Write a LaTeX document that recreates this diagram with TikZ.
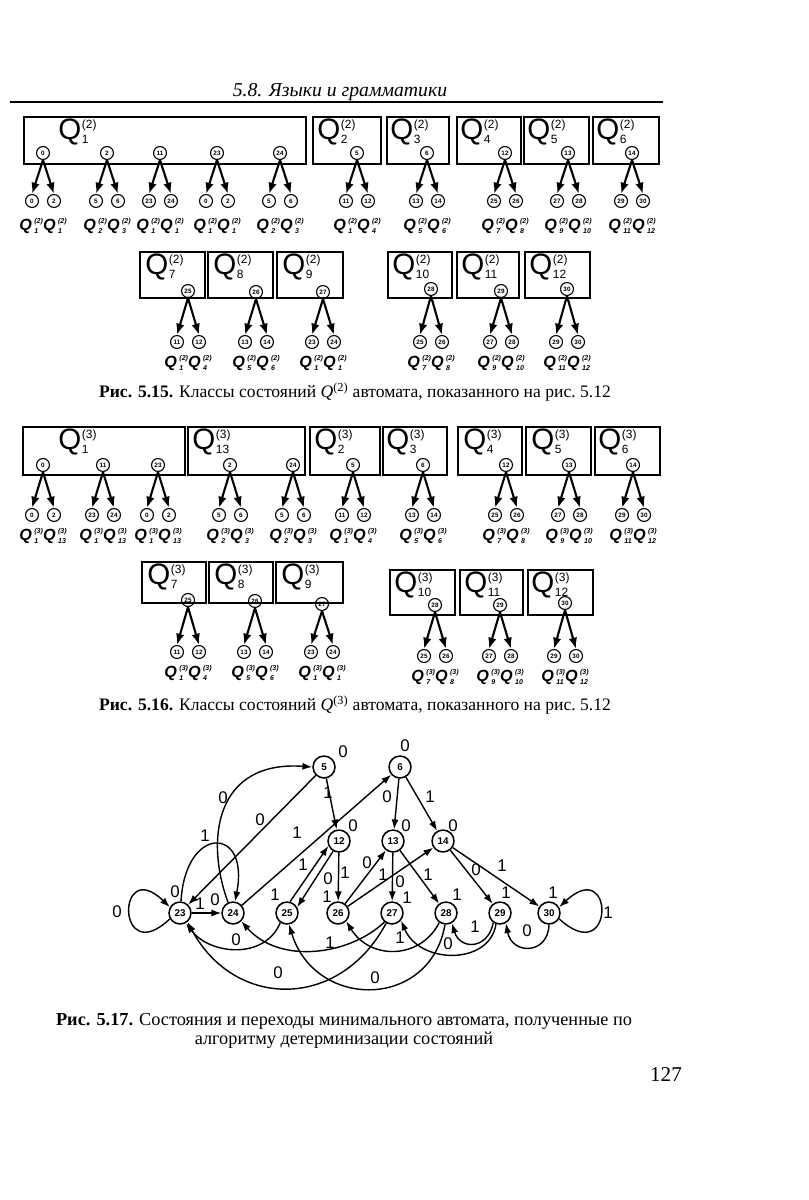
\documentclass[tikz,border=0pt]{standalone}
\usepackage{fontspec}
\setmainfont{Liberation Serif}
\setsansfont{Liberation Sans}
\usetikzlibrary{arrows.meta}

% index pair beside a Q: size, sup, sub, raise of sup, raise of sub
\newcommand{\QIdx}[5]{{\fontsize{#1}{#1}\selectfont
  \setbox0\hbox{\raisebox{#4}{(#2)}}\setbox2\hbox{\raisebox{#5}{#3}}%
  \ifdim\wd0>\wd2 \rlap{\box2}\box0\else\rlap{\box0}\box2\fi}}
\newcommand{\QBig}[2]{Q\kern0.5pt\QIdx{8.5}{#2}{#1}{8pt}{-2.6pt}}
\newcommand{\QSm}[2]{Q\kern1.8pt\QIdx{5}{#2}{#1}{5.2pt}{-2.3pt}}

\begin{document}
\begin{tikzpicture}[x=0.025cm,y=-0.025cm,
  kid/.style={circle,draw,line width=0.8pt,inner sep=0pt,minimum size=9.2pt,font=\sffamily\bfseries\fontsize{4.5}{5}\selectfont},
  qbox/.style={draw,line width=1.2pt},
  qbig/.style={anchor=north west,inner sep=0pt,font=\sffamily\fontsize{21}{21}\selectfont},
  qsm/.style={inner sep=0pt,font=\sffamily\bfseries\itshape\fontsize{11.5}{12}\selectfont},
  kidarrow/.style={-{Latex[length=8pt,width=6pt]},line width=1.5pt},
  stnode/.style={circle,draw,line width=1.1pt,inner sep=0pt,minimum size=15.6pt,font=\sffamily\bfseries\fontsize{7}{7}\selectfont},
  trans/.style={-{Latex[length=7pt,width=5pt]},line width=1pt},
  lbl/.style={inner sep=0pt,font=\sffamily\fontsize{12}{12}\selectfont},
  captxt/.style={inner sep=0pt,font=\fontsize{12.5}{13}\selectfont}]
\fill[white] (0,0) rectangle (808,1200);
\useasboundingbox (0,0) rectangle (808,1200);

% running head
\node[inner sep=0pt,font=\itshape\fontsize{14}{14}\selectfont] (hdr) at (340,92) {5.8. Языки и грамматики};
\draw[line width=1pt] (10,102) -- (663,102);

% ---- fig 5.15, upper row
\draw[qbox] (24,117) rectangle (306,164);
\draw[qbox] (313,117) rectangle (381,164);
\draw[qbox] (387,117) rectangle (449,164);
\draw[qbox] (457,117) rectangle (521,164);
\draw[qbox] (524,117) rectangle (589,164);
\draw[qbox] (593,117) rectangle (659,164);
\node[qbig] (Ba1) at (58,119) {\QBig{1}{2}};
\node[qbig] (Ba2) at (317,119) {\QBig{2}{2}};
\node[qbig] (Ba3) at (390,119) {\QBig{3}{2}};
\node[qbig] (Ba4) at (460,119) {\QBig{4}{2}};
\node[qbig] (Ba5) at (527,119) {\QBig{5}{2}};
\node[qbig] (Ba6) at (596,119) {\QBig{6}{2}};
\foreach \n/\x/\pl/\ca/\cb/\qa/\qb in {a/43/0/0/2/1/1,b/107/2/5/6/2/3,c/160/11/23/24/1/1,d/217/23/0/2/1/1,e/280/24/5/6/2/3,f/357/5/11/12/1/4,g/427/6/13/14/5/6,h/505/12/25/26/7/8,i/568/13/27/28/9/10,j/632/14/29/30/11/12}{
  \node[kid] (pa\n) at (\x,153) {\pl};
  \node[kid] (la\n) at (\x-11,201) {\ca};
  \node[kid] (ra\n) at (\x+11,201) {\cb};
  \node[qsm] (qa\n) at (\x,226) {\QSm{\qa}{2}\QSm{\qb}{2}};
  \draw[kidarrow] (pa\n.south) -- (la\n.north);
  \draw[kidarrow] (pa\n.south) -- (ra\n.north);
}

% ---- fig 5.15, lower row
\draw[qbox] (140,252) rectangle (205,298);
\draw[qbox] (208,252) rectangle (273,298);
\draw[qbox] (277,252) rectangle (343,298);
\draw[qbox] (388,252) rectangle (452,298);
\draw[qbox] (457,252) rectangle (519,298);
\draw[qbox] (525,252) rectangle (590,298);
\node[qbig] (Bb7) at (145,254) {\QBig{7}{2}};
\node[qbig] (Bb8) at (213,254) {\QBig{8}{2}};
\node[qbig] (Bb9) at (282,254) {\QBig{9}{2}};
\node[qbig] (Bb10) at (392,254) {\QBig{10}{2}};
\node[qbig] (Bb11) at (461,254) {\QBig{11}{2}};
\node[qbig] (Bb12) at (529,254) {\QBig{12}{2}};
\foreach \n/\x/\y/\pl/\ca/\cb/\qa/\qb in {a/188/291/25/11/12/1/4,b/256/292/26/13/14/5/6,c/323/292/27/23/24/1/1,d/431/289/28/25/26/7/8,e/501/291/29/27/28/9/10,f/567/289/30/29/30/11/12}{
  \node[kid] (pb\n) at (\x,\y) {\pl};
  \node[kid] (lb\n) at (\x-11,342) {\ca};
  \node[kid] (rb\n) at (\x+11,342) {\cb};
  \node[qsm] (qb\n) at (\x,363) {\QSm{\qa}{2}\QSm{\qb}{2}};
  \draw[kidarrow] (pb\n.south) -- (lb\n.north);
  \draw[kidarrow] (pb\n.south) -- (rb\n.north);
}
\node[captxt] (cap15) at (355,392) {\textbf{Рис. 5.15.} Классы состояний \textit{Q}\textsuperscript{(2)} автомата, показанного на рис.~5.12};

% ---- fig 5.16, upper row
\draw[qbox] (23,427) rectangle (185,475);
\draw[qbox] (188,427) rectangle (305,475);
\draw[qbox] (310,427) rectangle (380,475);
\draw[qbox] (383,427) rectangle (447,475);
\draw[qbox] (458,427) rectangle (522,475);
\draw[qbox] (526,427) rectangle (591,475);
\draw[qbox] (595,427) rectangle (660,475);
\node[qbig] (Bc1) at (58,429) {\QBig{1}{3}};
\node[qbig] (Bc13) at (192,429) {\QBig{13}{3}};
\node[qbig] (Bc2) at (314,429) {\QBig{2}{3}};
\node[qbig] (Bc3) at (386,429) {\QBig{3}{3}};
\node[qbig] (Bc4) at (463,429) {\QBig{4}{3}};
\node[qbig] (Bc5) at (531,429) {\QBig{5}{3}};
\node[qbig] (Bc6) at (598,429) {\QBig{6}{3}};
\foreach \n/\x/\pl/\ca/\cb/\qa/\qb in {a/43/0/0/2/1/13,b/103/11/23/24/1/13,c/158/23/0/2/1/13,d/230/2/5/6/2/3,e/293/24/5/6/2/3,f/353/5/11/12/1/4,g/423/6/13/14/5/6,h/506/12/25/26/7/8,i/569/13/27/28/9/10,j/633/14/29/30/11/12}{
  \node[kid] (pc\n) at (\x,465) {\pl};
  \node[kid] (lc\n) at (\x-11,515) {\ca};
  \node[kid] (rc\n) at (\x+11,515) {\cb};
  \node[qsm] (qc\n) at (\x,536) {\QSm{\qa}{3}\QSm{\qb}{3}};
  \draw[kidarrow] (pc\n.south) -- (lc\n.north);
  \draw[kidarrow] (pc\n.south) -- (rc\n.north);
}

% ---- fig 5.16, lower row
\draw[qbox] (142,562) rectangle (206,603);
\draw[qbox] (209,562) rectangle (273,603);
\draw[qbox] (276,562) rectangle (343,603);
\draw[qbox] (390,570) rectangle (455,615);
\draw[qbox] (460,570) rectangle (523,615);
\draw[qbox] (528,570) rectangle (593,615);
\node[qbig] (Bd7) at (147,564) {\QBig{7}{3}};
\node[qbig] (Bd8) at (214,564) {\QBig{8}{3}};
\node[qbig] (Bd9) at (281,564) {\QBig{9}{3}};
\node[qbig] (Bd10) at (394,572) {\QBig{10}{3}};
\node[qbig] (Bd11) at (464,572) {\QBig{11}{3}};
\node[qbig] (Bd12) at (531,572) {\QBig{12}{3}};
\foreach \n/\x/\y/\cy/\pl/\ca/\cb/\qa/\qb in {a/188/600/652/25/11/12/1/4,b/255/601/652/26/13/14/5/6,c/322/604/652/27/23/24/1/1,d/435/605/656/28/25/26/7/8,e/500/605/656/29/27/28/9/10,f/565/603/656/30/29/30/11/12}{
  \node[kid] (pd\n) at (\x,\y) {\pl};
  \node[kid] (ld\n) at (\x-11,\cy) {\ca};
  \node[kid] (rd\n) at (\x+11,\cy) {\cb};
  \node[qsm] (qd\n) at (\x,\cy+21) {\QSm{\qa}{3}\QSm{\qb}{3}};
  \draw[kidarrow] (pd\n.south) -- (ld\n.north);
  \draw[kidarrow] (pd\n.south) -- (rd\n.north);
}
\node[captxt] (cap16) at (355,705) {\textbf{Рис. 5.16.} Классы состояний \textit{Q}\textsuperscript{(3)} автомата, показанного на рис.~5.12};

% ---- fig 5.17, minimal automaton
\node[stnode] (s5) at (324,767) {5};
\node[stnode] (s6) at (400,767) {6};
\node[stnode] (s12) at (339,841) {12};
\node[stnode] (s13) at (393,841) {13};
\node[stnode] (s14) at (443,841) {14};
\node[stnode] (s23) at (180,913) {23};
\node[stnode] (s24) at (233,913) {24};
\node[stnode] (s25) at (287,913) {25};
\node[stnode] (s26) at (338,913) {26};
\node[stnode] (s27) at (392,913) {27};
\node[stnode] (s28) at (446,913) {28};
\node[stnode] (s29) at (500,913) {29};
\node[stnode] (s30) at (549,913) {30};

% outputs of the states
\node[lbl] (o5) at (343,752) {0};
\node[lbl] (o6) at (405,746) {0};
\node[lbl] (o12) at (353,826) {0};
\node[lbl] (o13) at (406,826) {0};
\node[lbl] (o14) at (453,826) {0};
\node[lbl] (o23) at (175,892) {0};
\node[lbl] (o24) at (215,900) {0};
\node[lbl] (o25) at (275,895) {1};
\node[lbl] (o26) at (327,897) {1};
\node[lbl] (o27) at (407,898) {1};
\node[lbl] (o28) at (457,895) {1};
\node[lbl] (o29) at (506,893) {1};
\node[lbl] (o30) at (553,893) {1};

% transitions
\draw[trans] (s23.210) .. controls (116,970) and (116,855) .. (s23.150);
\draw[trans] (s30.-30) .. controls (615,970) and (615,855) .. (s30.30);
\draw[trans] (s23) -- (s24);
\draw[trans] (s23.85) .. controls (185,825) and (250,825) .. (s24.80);
\draw[trans] (s24.115) .. controls (205,840) and (215,760) .. (s5.180);
\draw[trans] (s5) -- (s23);
\draw[trans] (s24) -- (s6);
\draw[trans] (s5) -- (s12);
\draw[trans] (s6) -- (s13);
\draw[trans] (s6) -- (s14);
\draw[trans] (s12) -- (s26);
\draw[trans] (s12.240) -- (s25.30);
\draw[trans] (s25.75) -- (s12.205);
\draw[trans] (s26) -- (s13);
\draw[trans] (s26) -- (s14);
\draw[trans] (s13) -- (s27);
\draw[trans] (s13) -- (s28);
\draw[trans] (s14) -- (s29);
\draw[trans] (s14) -- (s30);
\draw[trans] (s25.235) .. controls (265,960) and (210,955) .. (s23.-60);
\draw[trans] (s27.240) .. controls (340,1010) and (235,1010) .. (s23.-50);
\draw[trans] (s27.230) .. controls (350,955) and (280,965) .. (s24.-45);
\draw[trans] (s28.235) .. controls (420,960) and (370,960) .. (s26.-45);
\draw[trans] (s28.265) .. controls (430,1010) and (315,1010) .. (s25.-80);
\draw[trans] (s29.250) .. controls (490,965) and (420,965) .. (s27.-40);
\draw[trans] (s29.235) .. controls (488,950) and (460,950) .. (s28.-60);
\draw[trans] (s30.270) .. controls (548,955) and (512,955) .. (s29.-60);

% transition symbols
\node[lbl] (t1) at (117,912) {0};
\node[lbl] (t2) at (200,904) {1};
\node[lbl] (t3) at (205,836) {1};
\node[lbl] (t4) at (223,798) {0};
\node[lbl] (t5) at (260,820) {0};
\node[lbl] (t6) at (297,833) {1};
\node[lbl] (t7) at (328,793) {1};
\node[lbl] (t8) at (387,797) {0};
\node[lbl] (t9) at (430,797) {1};
\node[lbl] (t10) at (345,873) {1};
\node[lbl] (t11) at (328,879) {0};
\node[lbl] (t12) at (303,865) {1};
\node[lbl] (t13) at (367,863) {0};
\node[lbl] (t14) at (383,875) {1};
\node[lbl] (t15) at (400,882) {0};
\node[lbl] (t16) at (428,875) {1};
\node[lbl] (t17) at (476,870) {0};
\node[lbl] (t18) at (502,866) {1};
\node[lbl] (t19) at (608,913) {1};
\node[lbl] (t20) at (527,931) {0};
\node[lbl] (t21) at (475,927) {1};
\node[lbl] (t22) at (448,944) {0};
\node[lbl] (t23) at (400,938) {1};
\node[lbl] (t24) at (375,978) {0};
\node[lbl] (t25) at (330,943) {1};
\node[lbl] (t26) at (278,973) {0};
\node[lbl] (t27) at (236,940) {0};

\node[captxt,align=center,font=\fontsize{13}{13.5}\selectfont] (cap17) at (344,1031) {\textbf{Рис. 5.17.} Состояния и переходы минимального автомата, полученные по\\алгоритму детерминизации состояний};
\node[inner sep=0pt,font=\fontsize{15}{15}\selectfont] (pgno) at (666,1075) {127};
\end{tikzpicture}
\end{document}
